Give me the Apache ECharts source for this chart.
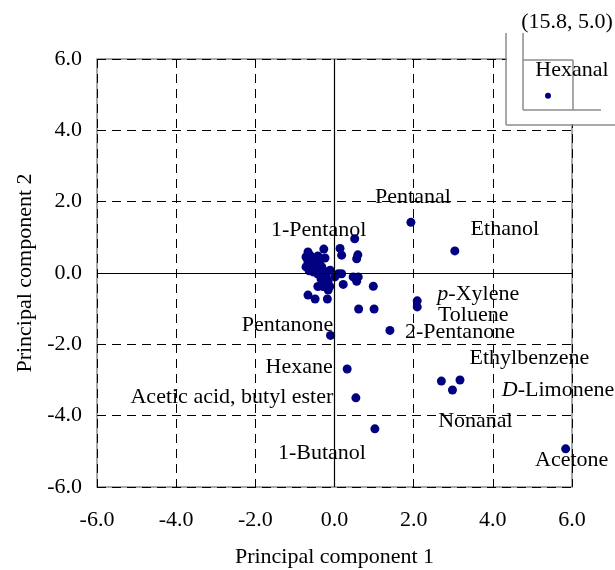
<!DOCTYPE html>
<html>
<head>
<meta charset="utf-8">
<script src="https://cdn.jsdelivr.net/npm/echarts@6/dist/echarts.min.js"></script>
<style>html,body{margin:0;padding:0;background:#fff}#c{width:615px;height:570px}</style>
</head>
<body>
<div id="c"></div>
<script>
// ---- data ----
const tickLabelsX = ['-6.0','-4.0','-2.0','0.0','2.0','4.0','6.0'];
const tickLabelsY = ['-6.0','-4.0','-2.0','0.0','2.0','4.0','6.0'];

const labeledNames = ['Pentanal','Ethanol','p-Xylene','Toluene','2-Pentanone','Ethylbenzene','D-Limonene','Nonanal','Acetone','Hexane','Acetic acid, butyl ester','1-Butanol','Pentanone','1-Pentanol'];
const labeledPC1 = [1.93, 3.04, 2.09, 2.09, 1.40, 2.70, 3.17, 2.98, 5.84, 0.32, 0.54, 1.02, -0.10, 0.51];
const labeledPC2 = [1.42, 0.62, -0.78, -0.95, -1.61, -3.03, -3.00, -3.28, -4.93, -2.69, -3.50, -4.37, -1.75, 0.96];

const clusterPC1 = [-0.72,-0.67,-0.72,-0.62,-0.54,-0.59,-0.49,-0.42,-0.47,-0.37,-0.32,-0.42,-0.27,-0.21,-0.34,-0.54,-0.64,-0.16,-0.11,-0.24,-0.27,-0.67,
  0.14,0.18,0.59,0.56,0.10,0.18,0.22,0.47,0.60,0.56,0.98,-0.67,-0.49,-0.18,-0.16,-0.42,-0.29,-0.12,0.01,0.61,1.00];
const clusterPC2 = [0.45,0.31,0.17,0.50,0.39,0.20,0.28,0.48,0.08,0.34,0.17,-0.03,0.06,-0.08,-0.17,0.03,0.06,-0.22,0.08,0.42,0.67,0.59,
  0.69,0.50,0.51,0.40,-0.02,-0.02,-0.32,-0.11,-0.11,-0.23,-0.37,-0.62,-0.73,-0.73,-0.48,-0.38,-0.38,-0.38,-0.11,-1.01,-1.01];

const outlierName = 'Hexanal';
const outlierPC1 = 15.8;
const outlierPC2 = 5.0;

// ---- styling / layout ----
const FONT = '"Liberation Serif","Times New Roman",serif';
const FS = 22;
const DOT = '#000080';
const GREY = '#8c8c8c';
const labelOffsets = {
  'Pentanal':[2,-25],'Ethanol':[50,-22],'p-Xylene':[61,-7],'Toluene':[56,8],'2-Pentanone':[70,2],
  'Ethylbenzene':[88,-23],'D-Limonene':[98,10],'Nonanal':[23,31],'Acetone':[6,11],'Hexane':[-48,-2],
  'Acetic acid, butyl ester':[-124,-1],'1-Butanol':[-53,24],'Pentanone':[-43,-10],'1-Pentanol':[-36,-9]
};
const outlierOffset = [24,-25];
function richName(n){
  if(n==='p-Xylene') return '{i|p}-Xylene';
  if(n==='D-Limonene') return '{i|D}-Limonene';
  return n;
}

const labeledData = labeledNames.map((n,i)=>({name:n, value:[labeledPC1[i], labeledPC2[i]]}));
const clusterData = clusterPC1.map((v,i)=>[v, clusterPC2[i]]);

const labelStyle = {
  show:true, position:'inside',
  color:'#000', fontFamily:FONT, fontSize:FS, align:'center', verticalAlign:'middle',
  rich:{ i:{fontStyle:'italic', fontFamily:FONT, fontSize:FS, color:'#000'} }
};

const chart = echarts.init(document.getElementById('c'), null, {renderer:'canvas'});
chart.setOption({
  backgroundColor:'#fff',
  animation:false,
  grid:[
    {left:97, right:43, top:59, bottom:83, show:true, borderColor:GREY, borderWidth:1.5,
     backgroundColor:'transparent', containLabel:false, outerBoundsMode:'none'},
    {left:523, top:60, width:50, height:50, show:false, containLabel:false, outerBoundsMode:'none'}
  ],
  xAxis:[
    {gridIndex:0, type:'value', min:-6, max:6, interval:2,
     name:'Principal component 1', nameLocation:'middle', nameGap:59, nameMoveOverlap:false,
     nameTextStyle:{fontFamily:FONT, fontSize:FS, color:'#000'},
     axisLine:{show:false}, axisTick:{show:false},
     axisLabel:{fontFamily:FONT, fontSize:FS, color:'#000', margin:22,
       formatter:(v)=>tickLabelsX[Math.round((v+6)/2)]},
     splitLine:{show:true, lineStyle:{color:'#000', width:1, type:[9,6]}}
    },
    {gridIndex:1, type:'value', min:15.3, max:16.3, show:false}
  ],
  yAxis:[
    {gridIndex:0, type:'value', min:-6, max:6, interval:2,
     name:'Principal component 2', nameLocation:'middle', nameGap:61, nameMoveOverlap:false,
     nameTextStyle:{fontFamily:FONT, fontSize:FS, color:'#000'},
     axisLine:{show:false}, axisTick:{show:false},
     axisLabel:{fontFamily:FONT, fontSize:FS, color:'#000', margin:15,
       formatter:(v)=>tickLabelsY[Math.round((v+6)/2)]},
     splitLine:{show:true, lineStyle:{color:'#000', width:1, type:[9,6]}}
    },
    {gridIndex:1, type:'value', min:4.6, max:6.0, show:false}
  ],
  series:[
    {type:'scatter', xAxisIndex:0, yAxisIndex:0, symbolSize:9, itemStyle:{color:DOT, opacity:1},
     data:clusterData, z:3,
     markLine:{silent:true, symbol:'none', label:{show:false},
       lineStyle:{color:'#000', width:1.2, type:'solid'},
       data:[{xAxis:0},{yAxis:0}]}
    },
    {type:'scatter', xAxisIndex:0, yAxisIndex:0, symbolSize:9, itemStyle:{color:DOT, opacity:1},
     data:labeledData, z:4,
     label:Object.assign({formatter:(p)=>richName(p.name)}, labelStyle),
     labelLayout:(p)=>{const o=labelOffsets[labeledNames[p.dataIndex]]; return {dx:o[0], dy:o[1], hideOverlap:false};}
    },
    {type:'scatter', xAxisIndex:1, yAxisIndex:1, symbolSize:6, itemStyle:{color:DOT, opacity:1}, z:20,
     data:[{name:outlierName, value:[outlierPC1, outlierPC2]}],
     label:Object.assign({formatter:(p)=>p.name}, labelStyle),
     labelLayout:()=>({dx:outlierOffset[0], dy:outlierOffset[1]})
    }
  ],
  graphic:[
    {type:'rect', z:10, shape:{x:507, y:0, width:108, height:124}, style:{fill:'#fff'}},
    {type:'line', z:11, shape:{x1:506, y1:33, x2:506, y2:125}, style:{stroke:GREY, lineWidth:1.5}},
    {type:'line', z:11, shape:{x1:506, y1:125, x2:615, y2:125}, style:{stroke:GREY, lineWidth:1.5}},
    {type:'line', z:11, shape:{x1:523, y1:33, x2:523, y2:110}, style:{stroke:GREY, lineWidth:1.5}},
    {type:'line', z:11, shape:{x1:523, y1:110, x2:601, y2:110}, style:{stroke:GREY, lineWidth:1.5}},
    {type:'line', z:11, shape:{x1:523, y1:60, x2:573, y2:60}, style:{stroke:GREY, lineWidth:1.5}},
    {type:'line', z:11, shape:{x1:573, y1:60, x2:573, y2:110}, style:{stroke:GREY, lineWidth:1.5}},
    {type:'text', z:12, x:567, y:22, style:{text:'(15.8, 5.0)', fill:'#000', font:FS+'px '+FONT, textAlign:'center', textVerticalAlign:'middle'}}
  ]
});
</script>
</body>
</html>
